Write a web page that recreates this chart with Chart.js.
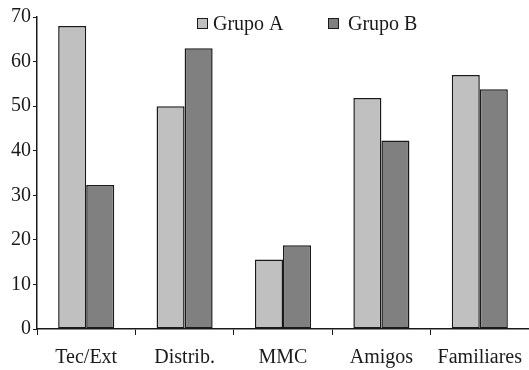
<!DOCTYPE html>
<html>
<head>
<meta charset="utf-8">
<script src="https://cdn.jsdelivr.net/npm/chart.js@4.4.0/dist/chart.umd.min.js"></script>
<style>
  html, body { margin: 0; padding: 0; background: #fff; font-family: "Liberation Serif", serif; }
  #wrap { width: 529px; height: 370px; }
</style>
</head>
<body>
<div id="wrap"><canvas id="myChart"></canvas></div>
<script>
const categorias = ['Tec/Ext', 'Distrib.', 'MMC', 'Amigos', 'Familiares'];
const grupoA = [68, 50, 15.6, 51.8, 57];
const grupoB = [32.3, 63, 18.8, 42.3, 53.8];
const ticksY = [0, 10, 20, 30, 40, 50, 60, 70];

const familia = 'Liberation Serif';
const negro = '#1a1a1a';
Chart.defaults.font.family = familia;
Chart.defaults.font.size = 20;
Chart.defaults.color = negro;

// leyenda propia dentro del area del grafico
const leyenda = {
  id: 'leyenda',
  afterDraw(chart) {
    const c = chart.ctx;
    const cajas = [197, 328];
    const textos = [213, 348];
    c.save();
    c.font = '20px Liberation Serif';
    c.textBaseline = 'alphabetic';
    chart.data.datasets.forEach((ds, i) => {
      c.fillStyle = ds.backgroundColor;
      c.fillRect(cajas[i], 18, 10, 10);
      c.strokeStyle = negro;
      c.lineWidth = 1;
      c.strokeRect(cajas[i] + 0.5, 18.5, 10, 10);
      c.fillStyle = negro;
      c.fillText(ds.label, textos[i], 30);
    });
    c.restore();
  }
};

const ctx = document.getElementById('myChart');
new Chart(ctx, {
  type: 'bar',
  data: {
    labels: categorias,
    datasets: [{
      label: 'Grupo A',
      data: grupoA,
      backgroundColor: '#c0c0c0',
      borderColor: negro,
      borderWidth: 1.5,
      borderSkipped: false
    }, {
      label: 'Grupo B',
      data: grupoB,
      backgroundColor: '#808080',
      borderColor: negro,
      borderWidth: 1.5,
      borderSkipped: false
    }]
  },
  options: {
    responsive: true,
    maintainAspectRatio: false,
    animation: false,
    layout: { padding: { top: 17, right: 0, left: 0, bottom: 0 } },
    plugins: {
      legend: { display: false },
      tooltip: { enabled: false }
    },
    datasets: {
      bar: { categoryPercentage: 0.57, barPercentage: 1 }
    },
    scales: {
      x: {
        grid: { display: true, offset: true, drawOnChartArea: false, tickLength: 6, color: negro, lineWidth: 1 },
        border: { display: true, color: negro, width: 1.5 },
        ticks: { padding: 11, maxRotation: 0, autoSkip: false },
        afterFit(s) { s.height = 41; s.paddingLeft = 0; s.paddingRight = 0; }
      },
      y: {
        min: 0,
        max: 70,
        afterBuildTicks(s) { s.ticks = ticksY.map(v => ({ value: v })); },
        grid: { display: true, drawOnChartArea: false, tickLength: 4, color: negro, lineWidth: 1 },
        border: { display: true, color: negro, width: 1.5 },
        ticks: { padding: 2 },
        afterFit(s) { s.width = 37; }
      }
    }
  },
  plugins: [leyenda]
});
</script>
</body>
</html>
